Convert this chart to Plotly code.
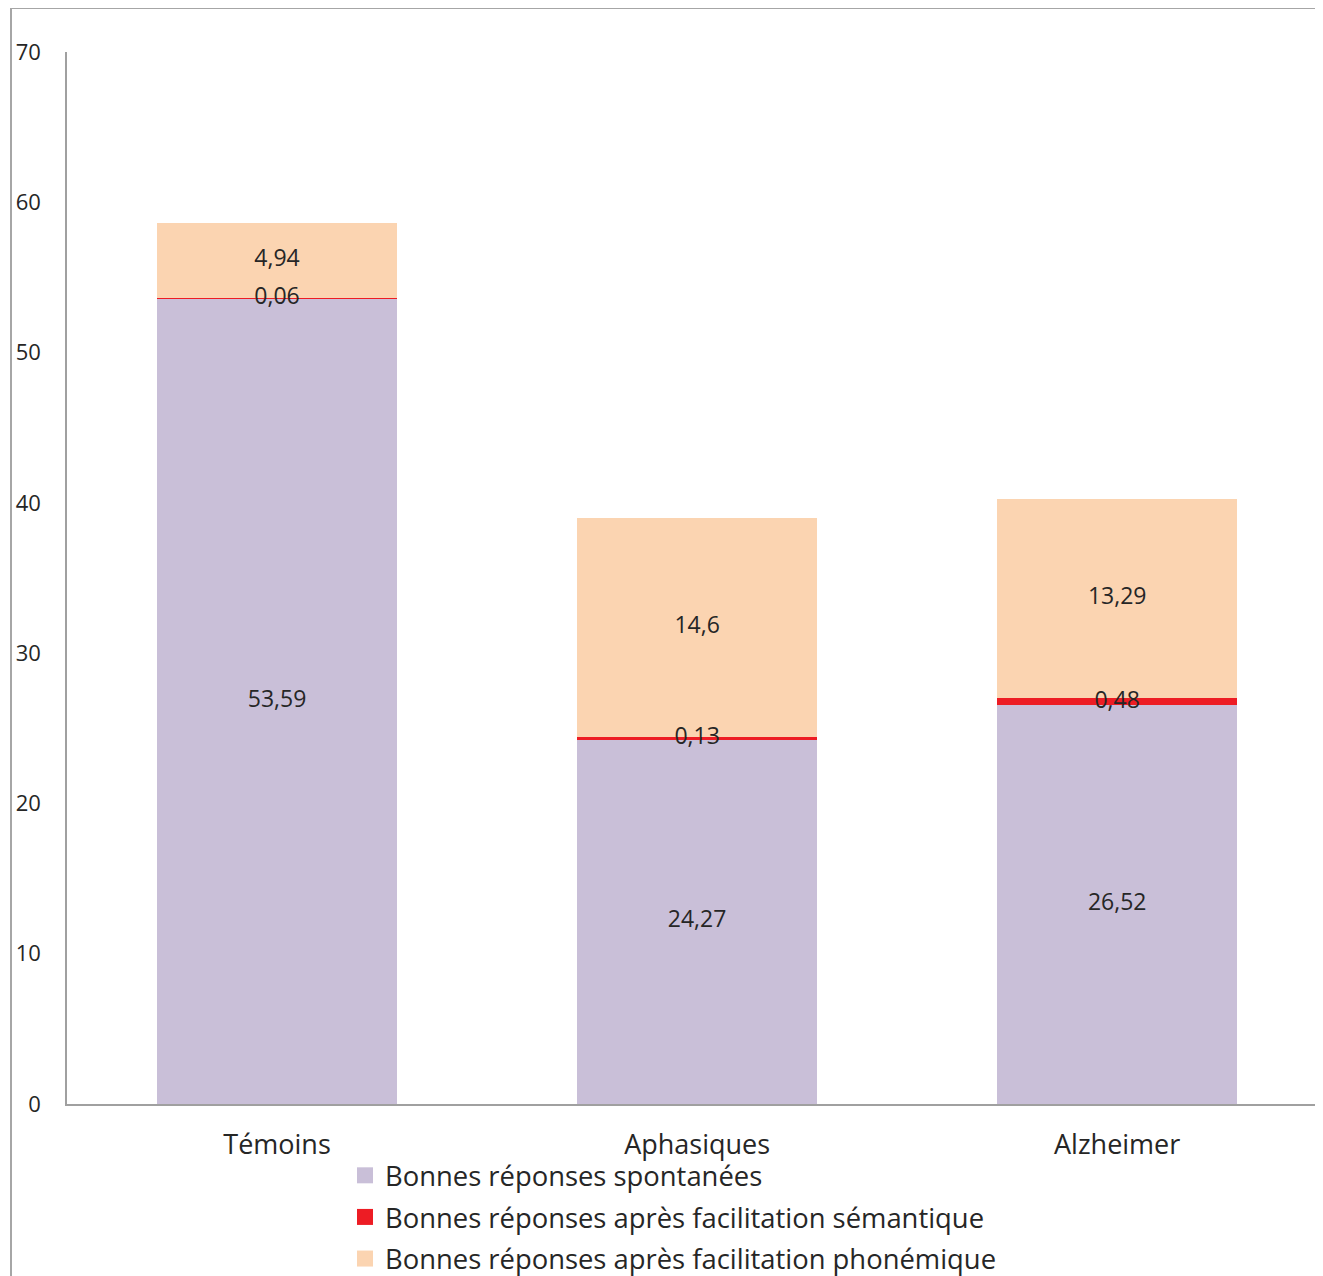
import plotly.graph_objects as go

groups = ["Témoins", "Aphasiques", "Alzheimer"]
spontanees = [53.59, 24.27, 26.52]
semantique = [0.06, 0.13, 0.48]
phonemique = [4.94, 14.6, 13.29]

series = [
    ("Bonnes réponses spontanées", spontanees, "#C9BFD8"),
    ("Bonnes réponses après facilitation sémantique", semantique, "#ED1C24"),
    ("Bonnes réponses après facilitation phonémique", phonemique, "#FBD4B1"),
]

FONT = "Open Sans, DejaVu Sans, sans-serif"
TEXT = "#262626"

# figure sits 8px in from the page edge; plot box in figure pixels.
# Figure is taller than the window so the legend never forces automargin.
W, H = 1315, 1310
L, T, R = 59, 44, 0
PLOT_BOTTOM = 1096
B = H - PLOT_BOTTOM
PW, PH = W - L - R, H - T - B


def px_x(x):
    return (x - L) / PW


def px_y(y):
    return (PLOT_BOTTOM - y) / PH


def fr(v):
    return f"{v:g}".replace(".", ",")


fig = go.Figure()
base = [0.0] * len(groups)
for i, (name, vals, color) in enumerate(series):
    fig.add_trace(
        go.Bar(
            x=groups,
            y=vals,
            name=name,
            legendgroup=f"g{i}",
            showlegend=False,
            marker=dict(color=color, line=dict(width=0)),
            width=0.571,
            hoverinfo="skip",
        )
    )
    # legend entry with a larger square swatch
    fig.add_trace(
        go.Scatter(
            x=[None],
            y=[None],
            mode="markers",
            name=name,
            legendgroup=f"g{i}",
            marker=dict(symbol="square", size=16, color=color),
        )
    )
    mids = [b + v / 2 for b, v in zip(base, vals)]
    base = [b + v for b, v in zip(base, vals)]
    fig.add_trace(
        go.Scatter(
            x=groups,
            y=mids,
            mode="text",
            text=[fr(v) for v in vals],
            textposition="middle center",
            textfont=dict(family=FONT, size=23, color=TEXT),
            showlegend=False,
            cliponaxis=False,
            hoverinfo="skip",
        )
    )

# outer frame (top and left edges visible)
frame = dict(color="#A6A6A6", width=2)
fig.add_shape(type="line", xref="paper", yref="paper",
              x0=px_x(3), x1=px_x(W + 5), y0=px_y(0), y1=px_y(0), line=frame)
fig.add_shape(type="line", xref="paper", yref="paper",
              x0=px_x(3), x1=px_x(3), y0=px_y(0), y1=px_y(H + 5), line=frame)

fig.update_layout(
    width=W,
    height=H,
    barmode="stack",
    paper_bgcolor="white",
    plot_bgcolor="white",
    margin=dict(l=L, r=R, t=T, b=B),
    font=dict(family=FONT, color=TEXT),
    showlegend=True,
    legend=dict(
        x=px_x(337),
        xanchor="left",
        y=px_y(1143),
        yanchor="top",
        font=dict(family=FONT, size=27.4, color=TEXT),
        tracegroupgap=3,
        traceorder="grouped",
        itemwidth=30,
        bgcolor="rgba(0,0,0,0)",
    ),
    xaxis=dict(
        range=[-0.5, 2.49],
        showline=True,
        linecolor="#A0A0A0",
        linewidth=2,
        ticks="",
        showgrid=False,
        tickfont=dict(family=FONT, size=27, color=TEXT),
        ticklabelstandoff=16,
    ),
    yaxis=dict(
        range=[0, 70],
        dtick=10,
        showline=True,
        linecolor="#A0A0A0",
        linewidth=1.5,
        ticks="",
        showgrid=False,
        zeroline=False,
        tickfont=dict(family=FONT, size=22, color=TEXT),
        ticklabelstandoff=20,
    ),
)

fig.write_html("out.html")
